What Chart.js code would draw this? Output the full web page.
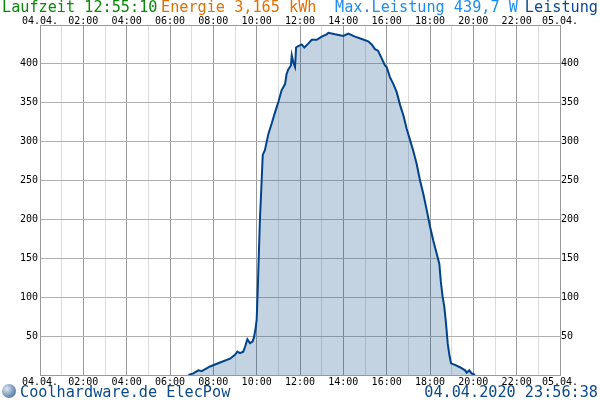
<!DOCTYPE html>
<html>
<head>
<meta charset="utf-8">
<script src="https://cdn.jsdelivr.net/npm/chart.js@4/dist/chart.umd.min.js"></script>
<style>
  body { margin: 0; background: #fff; }
  #wrap { position: relative; width: 600px; height: 400px; }
  canvas { position: absolute; left: 0; top: 0; }
  .txt { position: absolute; font-family: "DejaVu Sans Mono", monospace; font-size: 15.2px; line-height: 15px; white-space: pre; }
  #icon { position: absolute; left: 2px; top: 384px; width: 14px; height: 14px; border-radius: 50%;
          background: radial-gradient(circle at 35% 35%, #dfe8f2, #6d8fb5 60%, #3a5f8c); }
</style>
</head>
<body>
<div id="wrap">
  <canvas id="c" width="600" height="400"></canvas>
  <span class="txt" style="left:2px;top:0px;color:#078a07">Laufzeit 12:55:10</span>
  <span class="txt" style="left:161px;top:0px;color:#e07000">Energie 3,165 kWh</span>
  <span class="txt" style="left:335px;top:0px;color:#1e8cf0">Max.Leistung 439,7 W</span>
  <span class="txt" style="right:2px;top:0px;color:#0a4a8c">Leistung</span>
  <div id="icon"></div>
  <span class="txt" style="left:20px;top:385px;color:#0a4a8c">Coolhardware.de ElecPow</span>
  <span class="txt" style="right:2px;top:385px;color:#0a4a8c">04.04.2020 23:56:38</span>
</div>
<script>
// time of day in hours and measured power in W
const hours = [6.85, 7.08, 7.31, 7.46, 7.85, 8.31, 8.77, 9.0, 9.11, 9.23, 9.38, 9.46, 9.57, 9.69, 9.81, 9.88, 9.95, 10.0,
  10.05, 10.15, 10.23, 10.28, 10.38, 10.54, 10.69, 10.85, 11.0, 11.15, 11.31, 11.38, 11.46, 11.58, 11.62, 11.69, 11.77,
  11.82, 11.92, 12.08, 12.2, 12.38, 12.54, 12.77, 13.0, 13.23, 13.31, 13.62, 14.0, 14.23, 14.54, 14.85, 15.15, 15.31,
  15.46, 15.6, 15.77, 15.92, 16.0, 16.15, 16.31, 16.46, 16.62, 16.77, 16.92, 17.08, 17.23, 17.38, 17.54, 17.69, 17.85,
  18.0, 18.15, 18.31, 18.43, 18.5, 18.58, 18.66, 18.74, 18.82, 18.9, 18.97, 19.15, 19.38, 19.62, 19.69, 19.81, 19.92, 20.08];
const watts = [0, 2, 6, 5, 11, 16, 21, 26, 30, 28, 30, 36, 46, 41, 43, 49, 60, 71,
  110, 200, 250, 283, 289, 310, 323, 338, 351, 366, 374, 387, 393, 398, 411, 402, 396,
  421, 423, 425, 421, 426, 431, 431, 435, 438, 440, 438, 436, 439, 435, 432, 429, 425,
  419, 417, 407, 398, 396, 383, 374, 364, 347, 334, 317, 302, 288, 272, 250, 233, 212,
  191, 173, 156, 143, 120, 101, 88, 66, 40, 25, 15, 13, 10, 6, 3, 6, 2, 0];
const hourLabels = ['04.04.', '', '02:00', '', '04:00', '', '06:00', '', '08:00', '', '10:00', '', '12:00', '',
  '14:00', '', '16:00', '', '18:00', '', '20:00', '', '22:00', '', '05.04.'];
const yMax = 450;

const tickFont = { family: 'DejaVu Sans Mono', size: 10 };

function xAxis(pos, showGrid, pad) {
  return {
    type: 'linear', position: pos, min: 0, max: 24,
    afterFit(scale) { scale.height = 25; },
    grid: {
      display: showGrid, drawTicks: false,
      color: (c) => c.tick && c.tick.value % 2 === 0 ? '#999' : '#dcdcdc'
    },
    border: { display: true, color: '#999' },
    ticks: {
      stepSize: 1, autoSkip: false, maxRotation: 0, padding: pad,
      color: '#000', font: tickFont,
      callback: (v) => hourLabels[v]
    }
  };
}

function yAxis(pos, showGrid, pad) {
  return {
    type: 'linear', position: pos, min: 0, max: yMax,
    afterFit(scale) { scale.width = 40; },
    grid: { display: showGrid, drawTicks: false, color: '#b0b0b0' },
    border: { display: true, color: '#999' },
    ticks: {
      stepSize: 50, padding: pad, color: '#000', font: tickFont,
      callback: (v) => (v === 0 || v === yMax) ? '' : v
    }
  };
}

new Chart(document.getElementById('c'), {
  type: 'line',
  data: {
    datasets: [{
      data: hours.map((h, i) => ({ x: h, y: watts[i] })),
      borderColor: '#00438a',
      borderWidth: 2,
      backgroundColor: 'rgba(15, 79, 139, 0.25)',
      fill: 'origin',
      pointRadius: 0,
      tension: 0
    }]
  },
  options: {
    responsive: false,
    animation: false,
    devicePixelRatio: 1,
    layout: { padding: 0 },
    plugins: { legend: { display: false }, tooltip: { enabled: false } },
    scales: {
      x: xAxis('bottom', true, 1),
      x2: xAxis('top', false, -2),
      y: yAxis('left', true, 2),
      y2: yAxis('right', false, 1)
    }
  }
});
</script>
</body>
</html>
